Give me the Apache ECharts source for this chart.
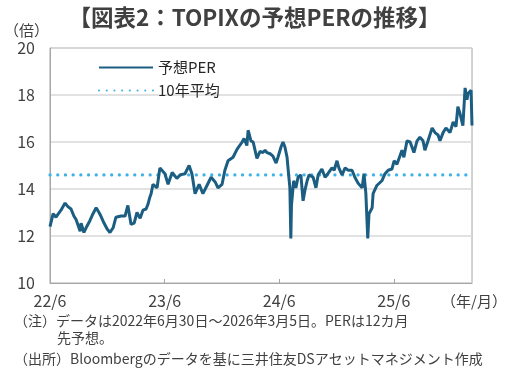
<!DOCTYPE html>
<html><head><meta charset="utf-8">
<script src="https://cdn.jsdelivr.net/npm/echarts@6/dist/echarts.min.js"></script>
<style>html,body{margin:0;padding:0;background:#fff}#c{width:509px;height:383px}</style>
</head><body><div id="c"></div>
<script>
const startDate = '2022-06-30';
const endDate = '2026-03-05';
const xTickLabels = ['22/6', '23/6', '24/6', '25/6'];
const yTicks = [10, 12, 14, 16, 18, 20];
const avgPER = 14.6;
const perDates = [
'2022-06-30','2022-07-10','2022-07-19','2022-08-04','2022-08-17','2022-08-26','2022-09-05','2022-09-14','2022-09-21','2022-10-04',
'2022-10-07','2022-10-16','2022-10-23','2022-11-04','2022-11-14','2022-11-24','2022-12-03','2022-12-09','2022-12-19','2022-12-29',
'2023-01-07','2023-01-17','2023-01-26','2023-02-11','2023-02-24','2023-03-05','2023-03-15','2023-03-25','2023-04-03','2023-04-13',
'2023-04-22','2023-05-02','2023-05-08','2023-05-14','2023-05-18','2023-05-24','2023-06-06','2023-06-15','2023-07-01','2023-07-11',
'2023-07-24','2023-08-08','2023-08-18','2023-09-03','2023-09-16','2023-09-25','2023-10-05','2023-10-18','2023-10-30','2023-11-12',
'2023-11-25','2023-12-08','2023-12-17','2023-12-30','2024-01-08','2024-01-18','2024-02-03','2024-02-16','2024-03-03','2024-03-09',
'2024-03-18','2024-03-22','2024-03-31','2024-04-07','2024-04-19','2024-04-29','2024-05-08','2024-05-15','2024-05-21','2024-05-31',
'2024-06-09','2024-06-19','2024-06-25','2024-07-05','2024-07-11','2024-07-17','2024-07-24','2024-07-27','2024-08-02','2024-08-05',
'2024-08-07','2024-08-14','2024-08-21','2024-08-28','2024-09-06','2024-09-13','2024-09-19','2024-09-26','2024-10-02','2024-10-15',
'2024-10-24','2024-10-31','2024-11-12','2024-11-22','2024-12-01','2024-12-14','2024-12-21','2024-12-30','2025-01-05','2025-01-15',
'2025-01-25','2025-02-03','2025-02-16','2025-02-25','2025-03-07','2025-03-20','2025-03-26','2025-04-01','2025-04-07','2025-04-11',
'2025-04-21','2025-04-24','2025-05-06','2025-05-22','2025-06-01','2025-06-11','2025-06-23','2025-06-30','2025-07-09','2025-07-25',
'2025-07-31','2025-08-10','2025-08-20','2025-09-01','2025-09-11','2025-09-20','2025-09-30','2025-10-06','2025-10-16','2025-10-29',
'2025-11-07','2025-11-17','2025-11-23','2025-12-03','2025-12-12','2025-12-25','2026-01-04','2026-01-13','2026-01-19','2026-01-26',
'2026-02-04','2026-02-11','2026-02-17','2026-02-20','2026-03-02','2026-03-05'
];
const perValues = [
12.4,12.95,12.8,13.1,13.4,13.25,13.15,12.85,12.7,12.2,
12.55,12.15,12.35,12.65,12.95,13.2,13.0,12.85,12.55,12.3,
12.15,12.35,12.8,12.85,12.85,13.3,12.5,12.55,13.0,12.75,
13.1,13.15,13.35,13.65,13.8,14.2,14.05,14.9,14.65,14.2,
14.7,14.45,14.6,14.65,15.0,14.65,13.8,14.2,13.8,14.15,
14.5,14.3,14.05,14.2,14.8,15.2,15.35,15.7,16.0,16.15,
15.85,16.5,16.05,16.0,15.3,15.6,15.55,15.65,15.55,15.5,
15.4,15.1,15.35,15.8,16.0,15.8,15.35,14.9,14.05,11.9,
13.3,14.35,14.05,14.5,14.6,13.5,13.95,14.35,14.6,14.5,
14.05,14.6,14.85,14.5,14.65,14.9,14.8,15.2,14.9,14.6,
14.9,14.8,14.8,14.5,14.25,14.05,14.65,13.8,11.9,12.95,
13.2,13.8,14.15,14.35,14.65,14.8,14.85,15.2,15.05,15.65,
15.35,16.05,16.0,15.55,16.05,16.2,16.05,15.65,16.05,16.6,
16.4,16.3,16.05,16.4,16.6,16.4,16.85,16.65,17.5,17.2,
16.7,18.3,17.8,18.05,18.2,16.7
];

const DAY = 86400000;
const t0 = Date.parse(startDate);
const dayIdx = d => Math.round((Date.parse(d) - t0) / DAY);
const perData = perDates.map((d, i) => [dayIdx(d), perValues[i]]);
const xMax = dayIdx(endDate);
const avgData = [[0, avgPER], [xMax, avgPER]];

const FONT = '"Noto Sans CJK JP", "Noto Sans", sans-serif';
const TXT = '#404040';
const LINE = '#1b5e82';
const DOT = '#3db2e6';
const chart = echarts.init(document.getElementById('c'), null, {renderer: 'canvas'});
chart.setOption({
  animation: false,
  textStyle: {fontFamily: FONT},
  grid: {left: 50, right: 37, top: 48, bottom: 100, show: true, borderColor: '#a6a6a6', borderWidth: 1},
  legend: {
    orient: 'vertical', left: 93, top: 55, itemWidth: 54, itemHeight: 12, itemGap: 8,
    itemStyle: {opacity: 0},
    textStyle: {fontFamily: FONT, fontSize: 15, color: '#262626'},
    data: ['予想PER', '10年平均']
  },
  xAxis: {
    type: 'value', min: 0, max: xMax, interval: 365,
    axisLine: {lineStyle: {color: '#a6a6a6', width: 1}},
    axisTick: {inside: true, length: 4, lineStyle: {color: '#a6a6a6'}},
    splitLine: {show: false},
    axisLabel: {showMaxLabel: false, margin: 10, fontSize: 16, color: TXT, fontFamily: FONT,
      formatter: v => xTickLabels[Math.round(v / 365)] || ''}
  },
  yAxis: {
    type: 'value', min: yTicks[0], max: yTicks[yTicks.length - 1], interval: 2,
    axisLine: {show: true, lineStyle: {color: '#a6a6a6', width: 1}},
    axisTick: {show: false},
    splitLine: {show: true, lineStyle: {color: '#d9d9d9', width: 1.5}},
    axisLabel: {margin: 15, fontSize: 16, color: TXT, fontFamily: FONT}
  },
  series: [
    {name: '予想PER', type: 'line', data: perData, showSymbol: false, symbol: 'none',
      lineStyle: {color: LINE, width: 3}, itemStyle: {color: LINE}, z: 3},
    {name: '10年平均', type: 'line', data: avgData, showSymbol: false, symbol: 'none',
      lineStyle: {color: DOT, width: 3.2, type: [0.1, 7.6], cap: 'round'}, itemStyle: {color: DOT}, z: 2}
  ],
  graphic: [
    {type: 'text', left: 'center', top: 6, style: {text: '【図表2：TOPIXの予想PERの推移】', font: 'bold 22.5px ' + FONT, fill: TXT}},
    {type: 'text', left: 4, top: 23, style: {text: '（倍）', font: '15px ' + FONT, fill: TXT}},
    {type: 'text', left: 441, top: 294, style: {text: '（年/月）', font: '15px ' + FONT, fill: TXT}},
    {type: 'text', left: 14, top: 314, style: {text: '（注）データは2022年6月30日～2026年3月5日。PERは12カ月', font: '14px ' + FONT, fill: TXT}},
    {type: 'text', left: 57, top: 331, style: {text: '先予想。', font: '14px ' + FONT, fill: TXT}},
    {type: 'text', left: 14, top: 352, style: {text: '（出所）Bloombergのデータを基に三井住友DSアセットマネジメント作成', font: '14px ' + FONT, fill: TXT}}
  ]
});
</script></body></html>
